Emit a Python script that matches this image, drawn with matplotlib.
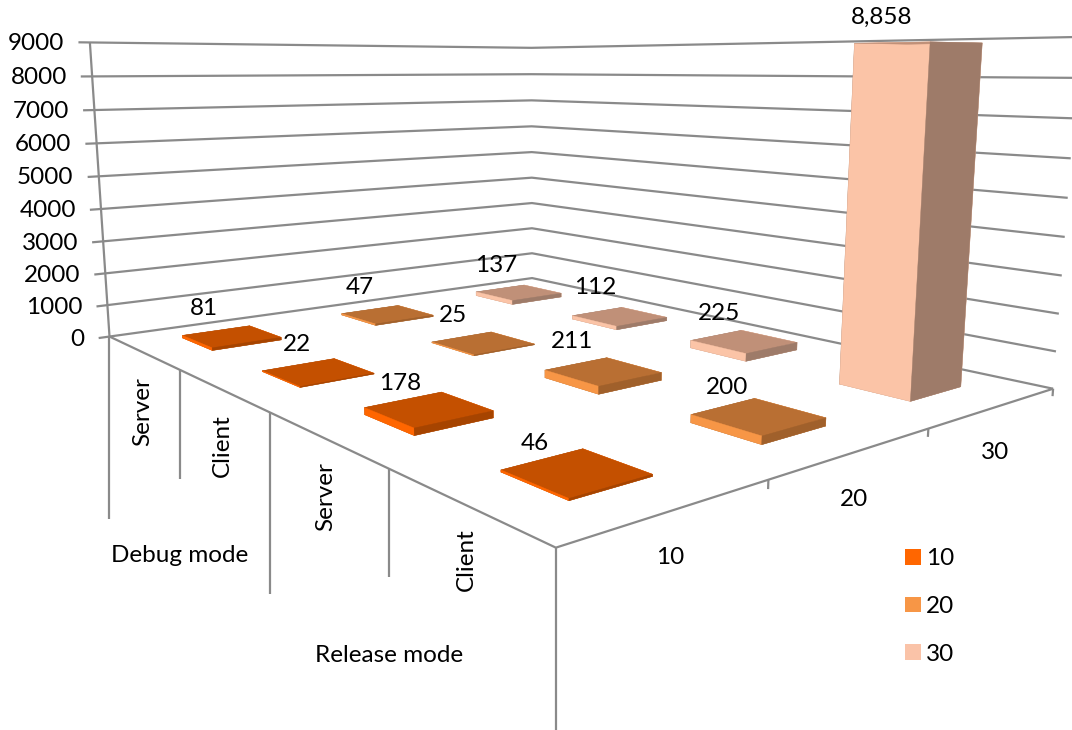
import numpy as np
import matplotlib
matplotlib.use("Agg")
import matplotlib.pyplot as plt
from matplotlib.lines import Line2D
from matplotlib.patches import Patch

W, H = 1072, 730

categories = ["Server", "Client", "Server", "Client"]
groups = ["Debug mode", "Release mode"]
series_names = ["10", "20", "30"]
values_10 = [81, 22, 178, 46]
values_20 = [47, 25, 211, 200]
values_30 = [137, 112, 225, 8858]
z_ticks = [0, 1000, 2000, 3000, 4000, 5000, 6000, 7000, 8000, 9000]

# left, top, right colours of each series
left_cols = ["#FF6600", "#F79646", "#FBC4A7"]
top_cols = ["#C45000", "#B96F33", "#C09078"]
right_cols = ["#A64400", "#A0602B", "#9E7B69"]
legend_cols = ["#FF6600", "#F79646", "#FAC3A8"]
grid_col = "#8A8A8A"

# centre of the data labels, in pixels
label_pos = [
    [(204, 308), (297, 344), (400, 384), (535, 443)],
    [(360, 287), (453, 316), (572, 342), (727, 387)],
    [(496, 265), (595, 288), (719, 313), (882, 17)],
]

# where known points of the box land in the picture: x, y, z, px, py
anchors = [
    (0, 0, 0, 109.5, 337), (1, 0, 0, 180, 370), (2, 0, 0, 270, 413),
    (3, 0, 0, 389, 470), (4, 0, 0, 555, 547), (4, 1, 0, 768, 479),
    (4, 2, 0, 929, 428), (4, 3, 0, 1053, 388), (0, 3, 0, 532, 278),
    (0, 0, 3000, 103, 241), (0, 0, 6000, 97, 143), (0, 0, 9000, 90, 42),
    (0, 3, 3000, 532, 203), (0, 3, 9000, 531, 48),
    (4, 3, 3000, 1062, 276), (4, 3, 6000, 1071, 159), (4, 3, 9000, 1080, 37),
]


def fit_camera(pts):
    """least squares 3x4 camera from the anchors, pixels with y going down"""
    rows, rhs = [], []
    for x, y, z, u, v in pts:
        z = z / 9000
        rows.append([x, y, z, 1, 0, 0, 0, 0, -u * x, -u * y, -u * z])
        rhs.append(u)
        rows.append([0, 0, 0, 0, x, y, z, 1, -v * x, -v * y, -v * z])
        rhs.append(v)
    p = np.linalg.lstsq(np.array(rows, float), np.array(rhs, float), rcond=None)[0]
    cam = np.array([p[:4], p[4:8], [p[8], p[9], p[10], 1.0]])
    cam[:, 2] /= 9000
    return cam


cam = fit_camera(anchors)


def project(x, y, z):
    u, v, w = cam @ np.array([x, y, z, 1.0])
    return u / w, v / w


def put_text(px, py, s, **kw):
    kw.setdefault("ha", "center")
    kw.setdefault("va", "center")
    fig.text(px / W, 1 - py / H, s, fontsize=17.5, color="black", **kw)


plt.rcParams["font.family"] = ["Lato", "DejaVu Sans"]
fig = plt.figure(figsize=(W / 100, H / 100), dpi=100)
ax = fig.add_axes([0, 0, 1, 1], projection="3d")
ax.set_axis_off()
ax.computed_zorder = False
ax.apply_aspect = lambda position=None: None

# the 2D view of a 3d axes is fixed, map the pixels of the camera onto it
to_axes = np.linalg.inv(ax.transData.get_matrix())
flip = np.array([[1, 0, 0], [0, -1, H], [0, 0, 1.0]])
m2d = to_axes @ flip @ cam
proj = np.vstack([m2d[0], m2d[1], [0, 0, 0, -1.0], m2d[2]])
ax.get_proj = lambda: proj


def line3(xs, ys, zs):
    ax.plot(xs, ys, zs, color=grid_col, lw=1.6, zorder=1, clip_on=False,
            solid_capstyle="butt")


# walls and floor edges
for z in z_ticks:
    line3([0, 0, 4], [-0.06, 3, 3], [z, z, z])
line3([0, 0], [0, 0], [0, 9000])
line3([0, 4, 4], [0, 0, 3], [0, 0, 0])

# category dividers hang straight down from the floor edge
for i, drop in enumerate([182, 109, 182, 108, 183]):
    px, py = project(i, 0, 0)
    fig.add_artist(Line2D([px / W, px / W], [1 - py / H, 1 - (py + drop) / H],
                          color=grid_col, lw=1.6, solid_capstyle="butt"))
for j in [1, 2, 3]:
    line3([4, 4], [j, j], [0, -200])

# bars
bar_w = 0.4
bar_d = 0.4
all_values = [values_10, values_20, values_30]
order = 2
for j in range(2, -1, -1):
    for i in range(4):
        face = [top_cols[j], top_cols[j], left_cols[j], left_cols[j],
                right_cols[j], right_cols[j]]
        ax.bar3d(i + (1 - bar_w) / 2, j + (1 - bar_d) / 2, 0, bar_w, bar_d,
                 all_values[j][i], color=face, edgecolor=face, linewidth=0.3,
                 shade=False, zorder=order)
        order += 1

# data labels
for j in range(3):
    for i in range(4):
        px, py = label_pos[j][i]
        put_text(px, py, f"{all_values[j][i]:,}")

# value axis labels
for z in z_ticks:
    px, py = project(0, -0.06, z)
    put_text(px - 14, py + 1, str(z), ha="right")

# category and series labels
for (px, py), s in zip([(143, 412), (222, 446), (326, 497), (466, 560)], categories):
    put_text(px, py, s, rotation=90)
put_text(180, 555, groups[0])
put_text(389, 656, groups[1])
for (px, py), s in zip([(670, 557), (854, 500), (995, 453)], series_names):
    put_text(px, py, s)

handles = [Patch(facecolor=c, edgecolor="none") for c in legend_cols]
fig.legend(handles, series_names, loc="upper left",
           bbox_to_anchor=(898 / W, 1 - 541 / H), frameon=False, fontsize=17.5,
           handlelength=0.63, handleheight=0.62, handletextpad=0.22,
           labelspacing=1.1, borderaxespad=0, borderpad=0.3)

fig.savefig("out.png", dpi=100, facecolor="white")
